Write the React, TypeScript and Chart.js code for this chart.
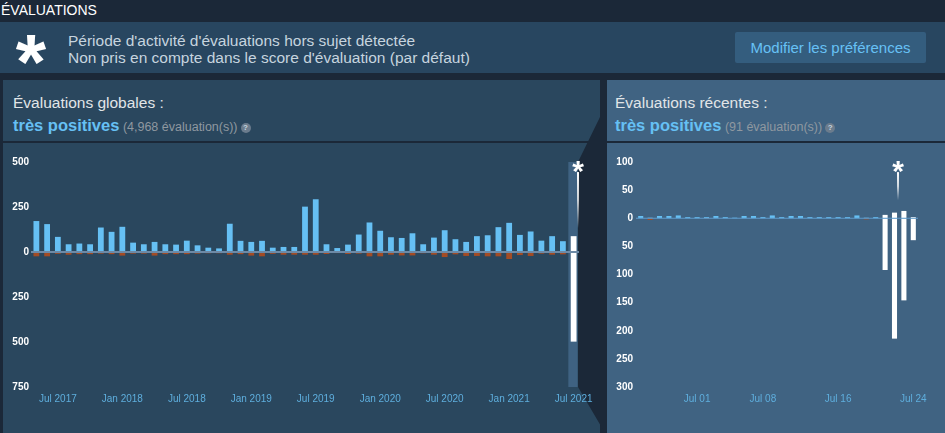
import React, { useEffect, useRef } from "react";
import { Chart, registerables } from "chart.js";

Chart.register(...registerables);

const FONT = 'Arial, "Liberation Sans", Helvetica, sans-serif';

// ---------- Évaluations globales (par mois) ----------
const monthLabels = [
  "May 2017", "Jun 2017", "Jul 2017", "Aug 2017", "Sep 2017", "Oct 2017", "Nov 2017", "Dec 2017",
  "Jan 2018", "Feb 2018", "Mar 2018", "Apr 2018", "May 2018", "Jun 2018", "Jul 2018", "Aug 2018", "Sep 2018", "Oct 2018", "Nov 2018", "Dec 2018",
  "Jan 2019", "Feb 2019", "Mar 2019", "Apr 2019", "May 2019", "Jun 2019", "Jul 2019", "Aug 2019", "Sep 2019", "Oct 2019", "Nov 2019", "Dec 2019",
  "Jan 2020", "Feb 2020", "Mar 2020", "Apr 2020", "May 2020", "Jun 2020", "Jul 2020", "Aug 2020", "Sep 2020", "Oct 2020", "Nov 2020", "Dec 2020",
  "Jan 2021", "Feb 2021", "Mar 2021", "Apr 2021", "May 2021", "Jun 2021", "Jul 2021",
];
const monthPositive = [
  172, 155, 84, 43, 47, 43, 136, 112,
  140, 52, 43, 56, 43, 41, 63, 37, 24, 20, 157, 62,
  56, 62, 24, 28, 28, 252, 293, 43, 22, 41, 97, 164,
  118, 82, 78, 104, 43, 80, 121, 71, 56, 88, 93, 138,
  162, 95, 114, 63, 88, 60, 88,
];
const monthNegative = [
  -24, -24, -10, -15, -12, -12, -9, -12,
  -20, -9, -9, -20, -12, -12, -12, -9, -7, -7, -15, -12,
  -20, -24, -10, -15, -15, -15, -15, -11, -6, -11, -9, -24,
  -24, -15, -19, -19, -7, -15, -28, -13, -22, -22, -24, -24,
  -39, -17, -22, -9, -15, -13, -498,
];
const monthOffTopic = ["Jul 2021"];
const monthTickLabels = ["Jul 2017", "Jan 2018", "Jul 2018", "Jan 2019", "Jul 2019", "Jan 2020", "Jul 2020", "Jan 2021", "Jul 2021"];
const monthMarker = "Jul 2021";

// ---------- Évaluations récentes (par jour) ----------
const dayLabels = [
  "Jun 25", "Jun 26", "Jun 27", "Jun 28", "Jun 29", "Jun 30",
  "Jul 01", "Jul 02", "Jul 03", "Jul 04", "Jul 05", "Jul 06", "Jul 07", "Jul 08", "Jul 09", "Jul 10",
  "Jul 11", "Jul 12", "Jul 13", "Jul 14", "Jul 15", "Jul 16", "Jul 17", "Jul 18", "Jul 19", "Jul 20",
  "Jul 21", "Jul 22", "Jul 23", "Jul 24",
];
const dayPositive = [
  4, 1, 4, 4, 5, 2,
  2, 2, 4, 2, 1, 4, 4, 2, 5, 2,
  4, 4, 2, 2, 2, 2, 2, 5, 1, 2,
  6, 10, 13, 2,
];
const dayNegative = [
  0, -3, 0, 0, 0, 0,
  0, -1, 0, 0, 0, 0, 0, 0, 0, 0,
  0, 0, 0, 0, 0, 0, 0, 0, -2, 0,
  -92, -214, -146, -39,
];
const dayOffTopic = ["Jul 21", "Jul 22", "Jul 23", "Jul 24"];
const dayTickLabels = ["Jul 01", "Jul 08", "Jul 16", "Jul 24"];
const dayMarker = "Jul 22";

const BLUE = "#66c0f4";
const RED = "#a34c25";
const WHITE = "#ffffff";
const PAGE = "#1b2838";
const LEFT_BG = "#2a475e";
const RIGHT_BG = "#406382";
const BANNER_BG = "#284660";

const overlayPlugin = {
  id: "overlay",
  beforeDatasetsDraw(chart: any, _args: any, opts: any) {
    if (!opts.highlight) return;
    const xs = chart.scales.x;
    const area = chart.chartArea;
    const idx = chart.data.labels.indexOf(opts.highlight);
    const c = xs.getPixelForValue(idx);
    const ctx = chart.ctx;
    ctx.save();
    ctx.fillStyle = opts.highlightColor;
    ctx.fillRect(c - 5.3, area.top, 9.3, area.bottom - area.top);
    ctx.restore();
  },
  afterDatasetsDraw(chart: any, _args: any, opts: any) {
    const xs = chart.scales.x;
    const ys = chart.scales.y;
    const area = chart.chartArea;
    const ctx = chart.ctx;
    ctx.save();
    const y0 = ys.getPixelForValue(0);
    ctx.strokeStyle = opts.zeroColor;
    ctx.lineWidth = opts.zeroWidth;
    ctx.beginPath();
    ctx.moveTo(area.left, y0);
    ctx.lineTo(area.right, y0);
    ctx.stroke();

    const idx = chart.data.labels.indexOf(opts.marker);
    const mx = Math.round(xs.getPixelForValue(idx) + opts.markerOffset);
    const yTop = ys.getPixelForValue(opts.markerTop);
    const yBot = ys.getPixelForValue(opts.markerBottom);
    const g = ctx.createLinearGradient(0, yTop, 0, yBot);
    g.addColorStop(0, "rgba(255,255,255,1)");
    g.addColorStop(0.5, "rgba(255,255,255,0.75)");
    g.addColorStop(1, "rgba(255,255,255,0)");
    ctx.fillStyle = g;
    ctx.fillRect(mx - 1, yTop, 2, yBot - yTop);

    ctx.fillStyle = WHITE;
    ctx.font = "bold 30px " + FONT;
    ctx.textAlign = "center";
    ctx.textBaseline = "alphabetic";
    ctx.fillText("*", mx, yTop + 8.5);
    ctx.restore();
  },
};

type Cfg = {
  labels: string[];
  pos: number[];
  neg: number[];
  offTopic: string[];
  tickLabels: string[];
  yMin: number;
  yMax: number;
  yStep: number;
  yWidth: number;
  yPad: number;
  right: number;
  zeroColor: string;
  zeroWidth: number;
  highlight?: string;
  highlightColor?: string;
  marker: string;
  markerOffset: number;
  markerTop: number;
  markerBottom: number;
};

function makeChart(canvas: HTMLCanvasElement, cfg: Cfg) {
  const tickLabels = cfg.tickLabels;
  return new Chart(canvas, {
    type: "bar",
    data: {
      labels: cfg.labels,
      datasets: [
        {
          data: cfg.pos,
          backgroundColor: cfg.labels.map((l) => (cfg.offTopic.includes(l) ? WHITE : BLUE)),
          stack: "s",
          barPercentage: 0.54,
          categoryPercentage: 1,
          borderWidth: 0,
        },
        {
          data: cfg.neg,
          backgroundColor: cfg.labels.map((l) => (cfg.offTopic.includes(l) ? WHITE : RED)),
          stack: "s",
          barPercentage: 0.54,
          categoryPercentage: 1,
          borderWidth: 0,
        },
      ],
    },
    options: {
      animation: false,
      responsive: false,
      maintainAspectRatio: false,
      devicePixelRatio: 1,
      layout: { padding: { top: 19, left: 0, right: cfg.right, bottom: 0 } },
      plugins: {
        legend: { display: false },
        tooltip: { enabled: false },
        overlay: {
          zeroColor: cfg.zeroColor,
          zeroWidth: cfg.zeroWidth,
          highlight: cfg.highlight,
          highlightColor: cfg.highlightColor,
          marker: cfg.marker,
          markerOffset: cfg.markerOffset,
          markerTop: cfg.markerTop,
          markerBottom: cfg.markerBottom,
        },
      } as any,
      scales: {
        x: {
          type: "category",
          stacked: true,
          grid: { display: false, drawTicks: false },
          border: { display: false },
          ticks: {
            autoSkip: false,
            maxRotation: 0,
            minRotation: 0,
            padding: 6,
            color: "#5eaedd",
            font: { family: FONT, size: 10 },
            callback: function (this: any, v: any) {
              const l = this.getLabelForValue(v);
              return tickLabels.includes(l) ? l : "";
            },
          },
          afterFit: (s: any) => {
            s.height = 46;
            s.paddingLeft = 0;
            s.paddingRight = 0;
          },
        },
        y: {
          stacked: true,
          min: cfg.yMin,
          max: cfg.yMax,
          grid: { display: false, drawTicks: false },
          border: { display: false },
          ticks: {
            stepSize: cfg.yStep,
            padding: cfg.yPad,
            color: "#ffffff",
            font: { family: FONT, size: 10, weight: "bold" },
            callback: (v: any) => String(Math.abs(Number(v))),
          },
          afterFit: (s: any) => {
            s.width = cfg.yWidth;
            s.paddingTop = 0;
            s.paddingBottom = 0;
          },
        },
      },
    },
    plugins: [overlayPlugin as any],
  });
}

function HelpIcon() {
  return (
    <span
      style={{
        display: "inline-block",
        width: 10,
        height: 10,
        borderRadius: 5,
        background: "#6b7c8d",
        color: "#c6d4df",
        fontSize: 8,
        fontWeight: "bold",
        lineHeight: "10px",
        textAlign: "center",
        verticalAlign: "1px",
        marginLeft: 3,
      }}
    >
      ?
    </span>
  );
}

function PanelHeader({ title, count, left }: { title: string; count: string; left: number }) {
  return (
    <>
      <div
        style={{
          position: "absolute",
          left,
          top: 13.6,
          fontSize: 15.5,
          lineHeight: "18px",
          color: "#e1e5e8",
          whiteSpace: "nowrap",
        }}
      >
        {title}
      </div>
      <div
        style={{
          position: "absolute",
          left,
          top: 34.6,
          fontSize: 15.5,
          lineHeight: "20px",
          whiteSpace: "nowrap",
        }}
      >
        <span style={{ color: BLUE, fontWeight: "bold", fontSize: 16.5 }}>très positives</span>
        <span style={{ color: "#8f98a0", fontSize: 12.5 }}> {count}</span>
        <HelpIcon />
      </div>
      <div style={{ position: "absolute", left: 0, top: 61, width: "100%", height: 2, background: PAGE }} />
    </>
  );
}

export default function App() {
  const leftRef = useRef<HTMLCanvasElement>(null);
  const rightRef = useRef<HTMLCanvasElement>(null);

  useEffect(() => {
    const c1 = makeChart(leftRef.current!, {
      labels: monthLabels,
      pos: monthPositive,
      neg: monthNegative,
      offTopic: monthOffTopic,
      tickLabels: monthTickLabels,
      yMin: -750,
      yMax: 500,
      yStep: 250,
      yWidth: 28,
      yPad: 2,
      right: 24,
      zeroColor: "#6d8aa6",
      zeroWidth: 2,
      highlight: monthMarker,
      highlightColor: "#3f6282",
      marker: monthMarker,
      markerOffset: 4.5,
      markerTop: 444,
      markerBottom: 133,
    });
    const c2 = makeChart(rightRef.current!, {
      labels: dayLabels,
      pos: dayPositive,
      neg: dayNegative,
      offTopic: dayOffTopic,
      tickLabels: dayTickLabels,
      yMin: -300,
      yMax: 100,
      yStep: 50,
      yWidth: 29,
      yPad: 3,
      right: 27,
      zeroColor: "#5e9bcb",
      zeroWidth: 1,
      marker: dayMarker,
      markerOffset: 3.5,
      markerTop: 82,
      markerBottom: 32,
    });
    return () => {
      c1.destroy();
      c2.destroy();
    };
  }, []);

  return (
    <div
      style={{
        position: "absolute",
        left: 0,
        top: 0,
        width: 945,
        height: 433,
        background: PAGE,
        overflow: "hidden",
        fontFamily: FONT,
      }}
    >
      <div style={{ position: "absolute", left: 1, top: 2, fontSize: 14, lineHeight: "16px", color: "#ffffff" }}>
        ÉVALUATIONS
      </div>

      <div style={{ position: "absolute", left: 0, top: 22, width: 945, height: 51, background: BANNER_BG }}>
        <div
          style={{
            position: "absolute",
            left: 15,
            top: 0,
            width: 32,
            textAlign: "center",
            fontSize: 78,
            lineHeight: "80px",
            fontWeight: "bold",
            color: "#ffffff",
          }}
        >
          *
        </div>
        <div
          style={{
            position: "absolute",
            left: 68,
            top: 10.1,
            fontSize: 15.5,
            lineHeight: "17px",
            color: "#c6d4df",
            whiteSpace: "nowrap",
          }}
        >
          <div>Période d'activité d'évaluations hors sujet détectée</div>
          <div>Non pris en compte dans le score d'évaluation (par défaut)</div>
        </div>
        <div
          style={{
            position: "absolute",
            left: 735,
            top: 10,
            width: 191,
            height: 31,
            background: "#345d7e",
            color: "#67c1f5",
            fontSize: 15,
            display: "flex",
            alignItems: "center",
            justifyContent: "center",
            borderRadius: 2,
          }}
        >
          Modifier les préférences
        </div>
      </div>

      <div style={{ position: "absolute", left: 3, top: 80, width: 597, height: 353, background: LEFT_BG }}>
        <PanelHeader title="Évaluations globales :" count="(4,968 évaluation(s))" left={10} />
      </div>

      <div style={{ position: "absolute", left: 607, top: 80, width: 338, height: 353, background: RIGHT_BG }}>
        <PanelHeader title="Évaluations récentes :" count="(91 évaluation(s))" left={8} />
      </div>

      <svg width={945} height={433} style={{ position: "absolute", left: 0, top: 0 }}>
        <polygon points="600,80 607,80 607,433 605,433 578,387 578,162 600,117" fill={PAGE} />
      </svg>

      <canvas
        ref={leftRef}
        width={600}
        height={290}
        style={{ position: "absolute", left: 3, top: 143, width: 600, height: 290 }}
      />
      <canvas
        ref={rightRef}
        width={338}
        height={290}
        style={{ position: "absolute", left: 607, top: 143, width: 338, height: 290 }}
      />
    </div>
  );
}
